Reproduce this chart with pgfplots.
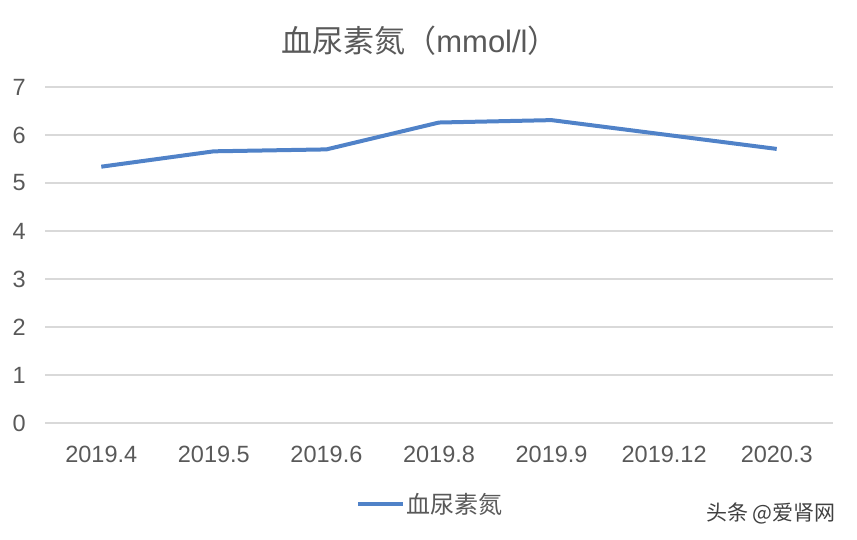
\documentclass[border=0pt]{standalone}
\usepackage{fontspec}
\setmainfont{Liberation Sans}
\newfontfamily\cjk{Noto Sans CJK SC}
\usepackage{pgfplots}
\pgfplotsset{compat=1.18}
\definecolor{lineblue}{RGB}{80,130,200}
\definecolor{txtgray}{RGB}{89,89,89}
\definecolor{gridgray}{RGB}{217,217,217}
\begin{document}
\begin{tikzpicture}[x=1pt,y=1pt]
\useasboundingbox (0,0) rectangle (857,539);
\begin{axis}[
  at={(45pt,116pt)}, anchor=south west,
  width=788pt, height=336pt, scale only axis,
  xmin=-0.5, xmax=6.5, ymin=0, ymax=7,
  xtick={0,...,6},
  xticklabels={2019.4,2019.5,2019.6,2019.8,2019.9,2019.12,2020.3},
  ytick={0,...,7},
  axis line style={draw=none},
  major tick length=0pt,
  ymajorgrids, grid style={gridgray, line width=1.3pt},
  /pgf/number format/assume math mode=true,
  tick label style={font=\fontsize{23.5}{27}\selectfont, text=txtgray},
  yticklabel style={inner sep=0pt, anchor=east, xshift=-19pt},
  xticklabel style={inner sep=0pt, anchor=north, yshift=-23pt},
  clip=false,
]
\addplot[lineblue, line width=4pt] coordinates {
  (0,5.34) (1,5.66) (2,5.70) (3,6.26) (4,6.31) (5,6.01) (6,5.71)
};
\end{axis}
\node[text=txtgray, font=\fontsize{31}{36}\selectfont] at (420,498) {{\cjk 血尿素氮（}mmol/l{\cjk ）}};
\draw[lineblue, line width=4pt] (358,35) -- (403,35);
\node[anchor=west, inner sep=0pt, text=txtgray, font=\fontsize{24}{28}\selectfont\cjk] at (406,35) {血尿素氮};
\node[anchor=west, inner sep=0pt, text=black!75, font=\fontsize{21}{25}\selectfont\cjk] at (706,26) {头条 @爱肾网};
\end{tikzpicture}
\end{document}
